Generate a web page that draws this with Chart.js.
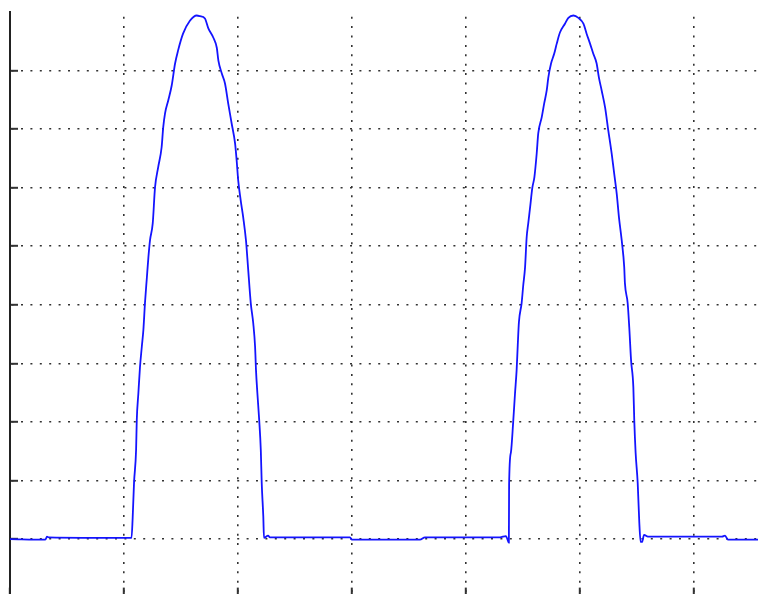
<!DOCTYPE html>
<html>
<head>
<meta charset="utf-8">
<script src="https://cdn.jsdelivr.net/npm/chart.js@4.4.1/dist/chart.umd.min.js"></script>
<style>
  html, body { margin: 0; padding: 0; background: #ffffff; overflow: hidden; width: 758px; height: 594px; }
  #wrap { position: absolute; left: 0; top: 0; width: 820px; height: 620px; }
</style>
</head>
<body>
<div id="wrap"><canvas id="c" width="820" height="620"></canvas></div>
<script>
// time in ms, output voltage in V (half-wave rectified with diode drop)
const timeMs = [
  0.00, 1.54, 1.57, 1.62, 1.70, 5.33, 5.38, 5.44, 5.53, 5.56, 5.63, 5.70, 5.78, 5.85, 5.92, 6.00,
  6.07, 6.14, 6.26, 6.36, 6.50, 6.65, 6.72, 6.80, 6.94, 7.09, 7.24, 7.37, 7.59, 7.89, 8.19, 8.33,
  8.55, 8.70, 8.92, 9.07, 9.14, 9.29, 9.43, 9.57, 9.72, 9.87, 9.94, 10.01, 10.12, 10.23, 10.35, 10.44,
  10.56, 10.67, 10.75, 10.79, 10.85, 10.93, 11.00, 11.04, 11.11, 11.14, 11.32, 11.40, 14.91, 15.00,
  17.98, 18.20, 21.49, 21.75, 21.86, 21.88, 21.89, 21.97, 22.07, 22.15, 22.22, 22.27, 22.32, 22.44,
  22.51, 22.59, 22.66, 22.73, 22.81, 22.91, 23.00, 23.10, 23.17, 23.32, 23.43, 23.54, 23.61, 23.73,
  23.87, 23.98, 24.12, 24.34, 24.49, 24.71, 24.93, 25.15, 25.29, 25.44, 25.58, 25.73, 25.83, 25.95,
  26.10, 26.24, 26.39, 26.50, 26.61, 26.71, 26.83, 26.94, 26.97, 27.09, 27.16, 27.24, 27.34, 27.38,
  27.44, 27.53, 27.60, 27.66, 27.72, 27.81, 27.98, 31.23, 31.36, 31.49, 35.00
];
const voltage = [
  0.00, -0.01, 0.00, 0.04, 0.03, 0.02, 0.36, 0.96, 1.52, 2.03, 2.49, 2.93, 3.28, 3.57, 4.03, 4.45,
  4.81, 5.10, 5.39, 6.00, 6.35, 6.69, 7.03, 7.27, 7.49, 7.74, 8.12, 8.34, 8.63, 8.85, 8.94, 8.93,
  8.89, 8.72, 8.56, 8.39, 8.17, 7.95, 7.78, 7.44, 7.10, 6.76, 6.47, 6.12, 5.78, 5.49, 5.10, 4.64,
  4.03, 3.68, 3.28, 2.88, 2.49, 2.03, 1.52, 0.96, 0.38, 0.02, 0.06, 0.03, 0.03, -0.01,
  -0.01, 0.03, 0.03, 0.05, -0.05, -0.06, 0.92, 1.48, 2.00, 2.49, 2.88, 3.31, 3.70, 4.03,
  4.33, 4.64, 5.15, 5.39, 5.66, 6.00, 6.18, 6.58, 6.93, 7.20, 7.44, 7.66, 7.88, 8.12,
  8.29, 8.46, 8.65, 8.80, 8.90, 8.94, 8.90, 8.80, 8.63, 8.46, 8.29, 8.12, 7.88, 7.66,
  7.37, 6.98, 6.58, 6.24, 5.90, 5.49, 5.10, 4.64, 4.37, 4.03, 3.62, 3.05, 2.59, 2.03,
  1.47, 0.96, 0.29, -0.05, -0.05, 0.07, 0.04, 0.04, 0.06, -0.01, -0.01
];
const xTicks = [0, 5, 10, 15, 20, 25, 30, 35];
const yTicks = [-1, 0, 1, 2, 3, 4, 5, 6, 7, 8, 9];

const points = timeMs.map((t, i) => ({ x: t, y: voltage[i] }));
const gridColor = '#333333';

new Chart(document.getElementById('c'), {
  type: 'line',
  data: {
    datasets: [{
      data: points,
      borderColor: 'rgb(20,20,255)',
      borderWidth: 1.8,
      pointRadius: 0,
      cubicInterpolationMode: 'monotone',
      fill: false
    }]
  },
  options: {
    responsive: false,
    animation: false,
    events: [],
    layout: { padding: { top: 12, left: 0, right: 12, bottom: 0 } },
    plugins: { legend: { display: false }, tooltip: { enabled: false } },
    scales: {
      x: {
        type: 'linear',
        min: xTicks[0],
        max: xTicks[xTicks.length - 1],
        afterBuildTicks: (s) => { s.ticks = xTicks.map(v => ({ value: v })); },
        afterFit: (s) => { s.height = 22.4; },
        ticks: { display: false },
        grid: {
          color: (ctx) => (ctx.tick && (ctx.tick.value === 0 || ctx.tick.value === 35)) ? 'rgba(0,0,0,0)' : gridColor,
          lineWidth: 1.6,
          drawTicks: true,
          tickLength: -10,
          tickColor: '#333333',
          tickWidth: 2,
          tickBorderDash: []
        },
        border: { display: true, color: '#222222', width: 2, dash: [2, 7.4], dashOffset: 4.7 }
      },
      y: {
        type: 'linear',
        min: yTicks[0],
        max: yTicks[yTicks.length - 1],
        afterBuildTicks: (s) => { s.ticks = yTicks.map(v => ({ value: v })); },
        afterFit: (s) => { s.width = 10; },
        ticks: { display: false },
        grid: {
          color: (ctx) => (ctx.tick && ctx.tick.value === 9) ? 'rgba(0,0,0,0)' : gridColor,
          lineWidth: 1.6,
          drawTicks: true,
          tickLength: -8,
          tickColor: (ctx) => (ctx.tick && ctx.tick.value === 9) ? 'rgba(0,0,0,0)' : '#333333',
          tickWidth: 2,
          tickBorderDash: []
        },
        border: { display: true, color: '#222222', width: 2, dash: [2, 7.4], dashOffset: 8.8 }
      }
    }
  }
});
</script>
</body>
</html>
